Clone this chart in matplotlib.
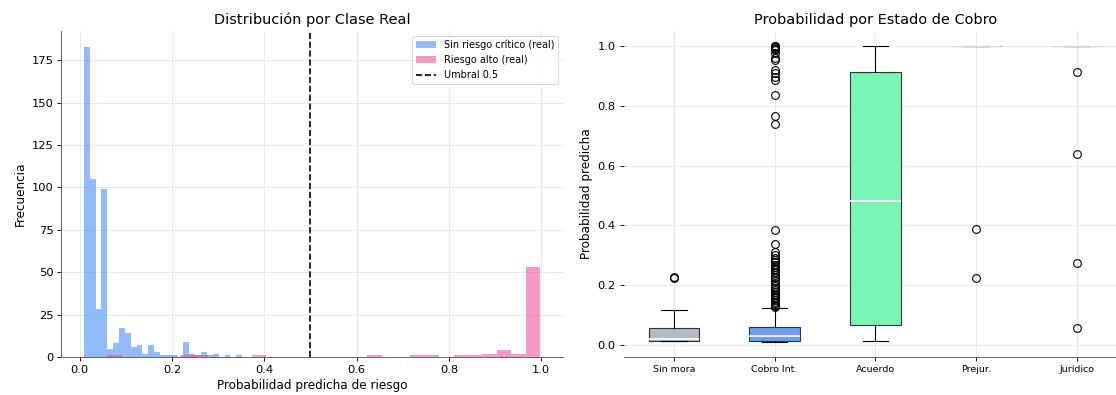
import numpy as np
import matplotlib
matplotlib.use("Agg")
import matplotlib.pyplot as plt

# Histogram of predicted risk, split by true class (30 bins each)
bins_low = np.linspace(0.009, 0.390, 31)
counts_low = [183, 105, 28, 99, 5, 8, 17, 14, 6, 7, 2, 7, 3, 1, 1,
              1, 0, 9, 2, 1, 3, 1, 2, 0, 1, 0, 1, 0, 0, 0]
bins_high = np.linspace(0.060, 0.998, 31)
counts_high = [1, 0, 0, 0, 0, 1, 1, 0, 0, 0, 1, 0, 0, 0, 0,
               0, 0, 0, 1, 0, 0, 1, 1, 0, 1, 1, 2, 4, 2, 53]
threshold = 0.5

# Box summaries per collection stage
estados = ["Sin mora", "Cobro Int.", "Acuerdo", "Prejur.", "Jurídico"]
medians = [0.019, 0.030, 0.481, 1.0, 1.0]
q1s = [0.014, 0.014, 0.067, 1.0, 1.0]
q3s = [0.058, 0.060, 0.912, 1.0, 1.0]
whis_lo = [0.013, 0.010, 0.014, 1.0, 1.0]
whis_hi = [0.116, 0.125, 0.998, 1.0, 1.0]
fliers = [
    [0.225, 0.228],
    [0.128, 0.131, 0.134, 0.140, 0.145, 0.150, 0.156, 0.160, 0.167, 0.172,
     0.178, 0.185, 0.190, 0.198, 0.206, 0.215, 0.223, 0.228, 0.235, 0.240,
     0.245, 0.250, 0.256, 0.262, 0.268, 0.279, 0.284, 0.290, 0.300, 0.312,
     0.338, 0.385,
     0.738, 0.765, 0.836, 0.886, 0.897, 0.909, 0.920, 0.953, 0.960, 0.975,
     0.985, 0.990, 0.993, 0.996, 0.998, 1.0],
    [],
    [0.225, 0.389],
    [0.056, 0.274, 0.640, 0.912],
]
box_colors = ["#b4b9c3", "#6fa1f2", "#79f6b6", "#fbbf77", "#f87171"]

plt.rcParams["xtick.labelsize"] = 10.3
plt.rcParams["ytick.labelsize"] = 10.3

fig = plt.figure(figsize=(13.95, 4.9375), dpi=80)
ax1 = fig.add_axes([0.0547, 0.0962, 0.4498, 0.8253])
ax2 = fig.add_axes([0.5588, 0.0962, 0.4511, 0.8253])

# Left: histograms
centers_low = (bins_low[:-1] + bins_low[1:]) / 2
centers_high = (bins_high[:-1] + bins_high[1:]) / 2
ax1.hist(centers_low, bins=bins_low, weights=counts_low, color="#3b82f6",
         alpha=0.55, label="Sin riesgo crítico (real)")
ax1.hist(centers_high, bins=bins_high, weights=counts_high, color="#ec4899",
         alpha=0.55, label="Riesgo alto (real)")
ax1.axvline(threshold, color="black", linestyle="--", linewidth=1.5,
            label="Umbral 0.5")
ax1.set_title("Distribución por Clase Real", fontsize=13)
ax1.set_xlabel("Probabilidad predicha de riesgo", fontsize=10.8)
ax1.set_ylabel("Frecuencia", fontsize=10.8)
ax1.legend(fontsize=8.8, loc="upper right")
ax1.grid(True, alpha=0.3)
ax1.set_axisbelow(True)

# Right: boxplots from summary stats
stats = []
for i, name in enumerate(estados):
    stats.append({
        "label": name, "med": medians[i], "q1": q1s[i], "q3": q3s[i],
        "whislo": whis_lo[i], "whishi": whis_hi[i], "fliers": fliers[i],
    })
bp = ax2.bxp(stats, patch_artist=True, widths=0.5,
             medianprops=dict(color="white", linewidth=1.5),
             boxprops=dict(edgecolor="#333333", linewidth=1),
             flierprops=dict(marker="o", markerfacecolor="none",
                             markeredgecolor="black", markersize=7))
for patch, c in zip(bp["boxes"], box_colors):
    patch.set_facecolor(c)
ax2.set_xlim(0.5, 5.5)
ax2.set_title("Probabilidad por Estado de Cobro", fontsize=13)
ax2.set_ylabel("Probabilidad predicha", fontsize=10.8)
ax2.tick_params(axis="x", labelsize=8.5)
ax2.grid(True, alpha=0.3)
ax2.set_axisbelow(True)

for ax in (ax1, ax2):
    ax.spines["top"].set_visible(False)
    ax.spines["right"].set_visible(False)
    ax.spines["bottom"].set_color("#555555")
    ax.spines["left"].set_color("#555555")
ax2.spines["left"].set_visible(False)

fig.savefig("out.png", dpi=80)
